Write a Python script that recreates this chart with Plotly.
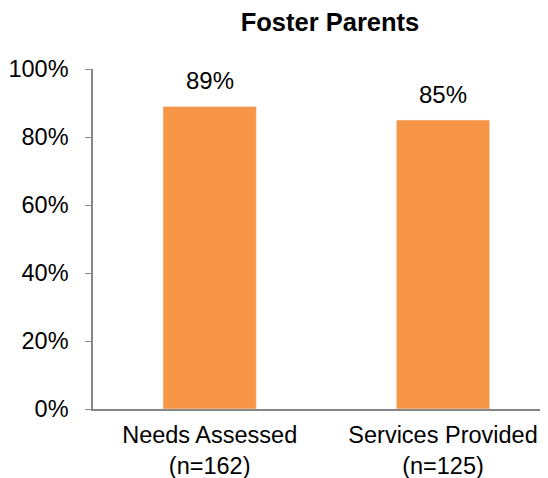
import plotly.graph_objects as go

categories = ["Needs Assessed<br>(n=162)", "Services Provided<br>(n=125)"]
values = [0.89, 0.85]
labels = ["89%", "85%"]
y_ticks = [0, 0.2, 0.4, 0.6, 0.8, 1.0]
y_ticktext = ["0%", "20%", "40%", "60%", "80%", "100%"]

font_name = "Liberation Sans, Arial, sans-serif"

fig = go.Figure(go.Bar(x=categories, y=values,
                       marker_color="#F79646",
                       width=0.4))

# value labels above bars
for cat, val, lab in zip(categories, values, labels):
    fig.add_annotation(x=cat, y=val, text=lab, showarrow=False,
                       yanchor="bottom", yshift=10,
                       font=dict(size=24, color="black", family=font_name))

# page body has an 8px margin, so the figure is a bit smaller than the window
fig.update_layout(
    width=540, height=470,
    margin=dict(l=85, r=0, t=61, b=69),
    plot_bgcolor="white", paper_bgcolor="white",
    showlegend=False,
    font=dict(family=font_name, size=24, color="black"),
    title=dict(text="<b>Foster Parents</b>", x=322/540, xref="container",
               xanchor="center", y=1 - 14/470, yanchor="middle",
               font=dict(size=25.5, color="black", family=font_name)),
)
fig.update_xaxes(range=[-0.5, 1.45], showline=True, linecolor="#868686",
                 linewidth=1.5, ticks="", showgrid=False, automargin=False,
                 ticklabelstandoff=4, tickfont=dict(size=23.5))
fig.update_yaxes(range=[0, 1], tickvals=y_ticks, ticktext=y_ticktext,
                 showline=True, linecolor="#868686", linewidth=1.5,
                 ticks="outside", ticklen=6, tickcolor="#868686",
                 showgrid=False, zeroline=False, ticklabelstandoff=12,
                 automargin=False, tickfont=dict(size=23.5))

fig.write_html("out.html")
